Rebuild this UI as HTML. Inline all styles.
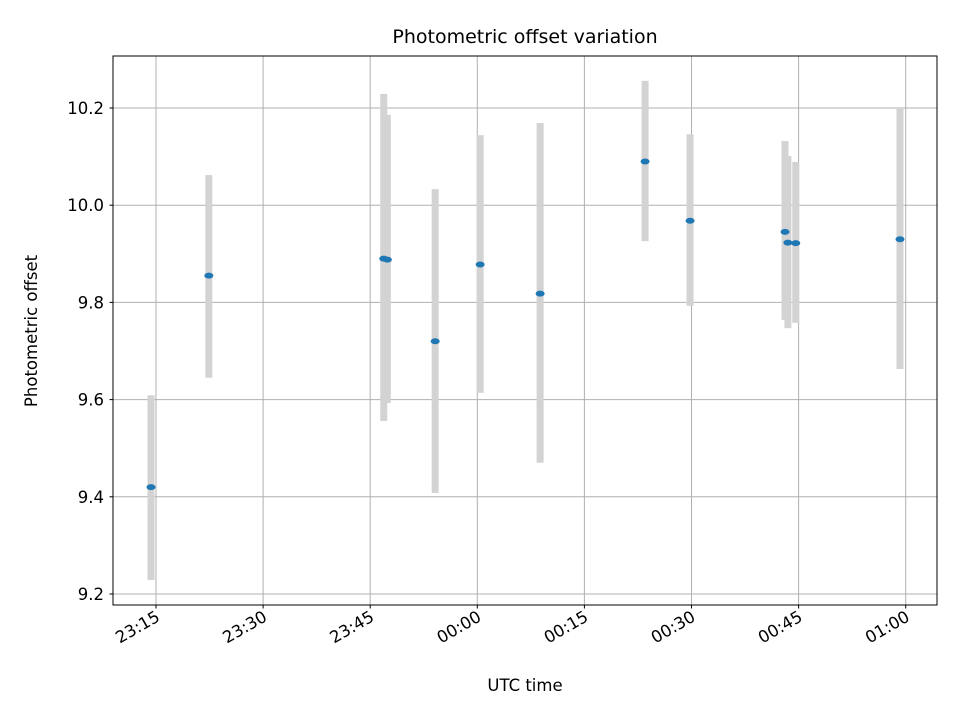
<!DOCTYPE html>
<html><head><meta charset="utf-8"><style>
body{margin:0;background:#fff;}
svg text{font-family:"DejaVu Sans","Liberation Sans",sans-serif;fill:#000;}
</style></head><body>
<svg id="chart" width="960" height="720" xmlns="http://www.w3.org/2000/svg">
<rect width="960" height="720" fill="#fff"/>
<text x="525" y="43" font-size="19" text-anchor="middle">Photometric offset variation</text>
<g id="grid"></g>
<g id="bars"></g>
<g id="points"></g>
<rect x="113" y="56" width="824" height="549" fill="none" stroke="#000" stroke-width="1"/>
<g id="axes"></g>
<text x="525" y="691" font-size="16.5" text-anchor="middle">UTC time</text>
<text transform="translate(37,331) rotate(-90)" font-size="16.5" text-anchor="middle">Photometric offset</text>
</svg>
<script>
// minutes after 23:15
const times=[-0.7,7.4,31.9,32.4,39.1,45.4,53.8,68.5,74.8,88.1,88.5,89.6,104.2];
const offsets=[9.42,9.855,9.89,9.888,9.72,9.878,9.818,10.09,9.968,9.945,9.923,9.922,9.93];
const errLow=[9.229,9.645,9.556,9.593,9.408,9.614,9.47,9.926,9.793,9.764,9.747,9.758,9.663];
const errHigh=[9.609,10.062,10.229,10.186,10.033,10.144,10.169,10.256,10.146,10.132,10.101,10.089,10.2];
const yTicks=[9.2,9.4,9.6,9.8,10.0,10.2];
const xTickMinutes=[0,15,30,45,60,75,90,105];
const xTickLabels=["23:15","23:30","23:45","00:00","00:15","00:30","00:45","01:00"];
const NS="http://www.w3.org/2000/svg";
function X(m){return 156+m*107.1/15;}
function Y(v){return 594-(v-9.2)*486;}
function mk(tag,attrs,parent){const e=document.createElementNS(NS,tag);for(const k in attrs)e.setAttribute(k,attrs[k]);document.getElementById(parent).appendChild(e);return e;}
yTicks.forEach((v,i)=>{
 const y=Y(v);
 const g=mk('line',{x1:113,x2:937,y1:y,y2:y,stroke:'#b0b0b0','stroke-width':1},'grid');
 
 
 const t=mk('line',{x1:109.5,x2:113,y1:y,y2:y,stroke:'#000'},'axes');
 
 
 const l=mk('text',{x:104,y:y+6,'font-size':16.5,'text-anchor':'end'},'axes');
 l.textContent=v.toFixed(1);
 
 
});
xTickMinutes.forEach((m,i)=>{
 const x=X(m);
 const g=mk('line',{x1:x,x2:x,y1:56,y2:605,stroke:'#b0b0b0','stroke-width':1},'grid');
 
 
 const t=mk('line',{x1:x,x2:x,y1:605,y2:608.5,stroke:'#000'},'axes');
 
 
 const l=mk('text',{transform:`translate(${x+5},${620}) rotate(-30)`,'font-size':16.5,'text-anchor':'end'},'axes');
 l.textContent=xTickLabels[i];
 
 
});
times.forEach((m,i)=>{
 const x=X(m);
 const b=mk('rect',{x:x-3.5,y:Y(errHigh[i]),width:7,height:Y(errLow[i])-Y(errHigh[i]),fill:'#d3d3d3'},'bars');
 
 
 const p=mk('ellipse',{cx:x,cy:Y(offsets[i]),rx:4.5,ry:3,fill:'#1f77b4'},'points');
 
 
});
</script>
</body></html>
